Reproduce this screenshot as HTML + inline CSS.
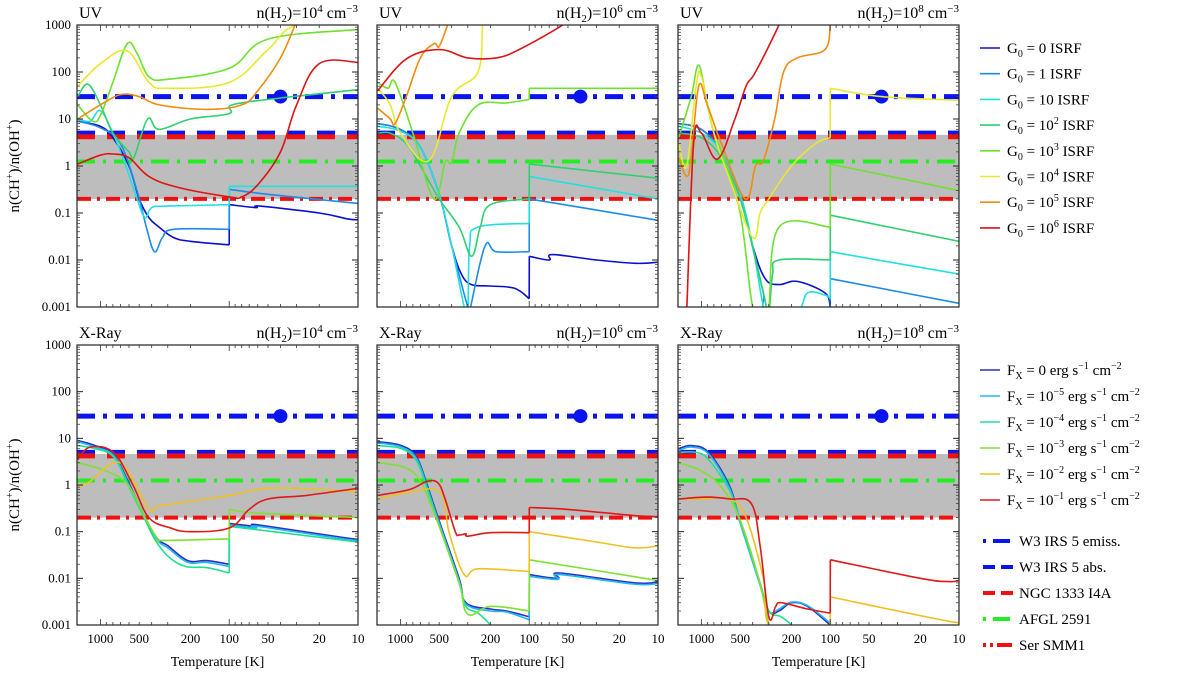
<!DOCTYPE html>
<html><head><meta charset="utf-8"><style>
body{margin:0;background:#fff}
svg{display:block;font-family:"Liberation Serif",serif}
</style></head><body>
<svg id="chart" width="1200" height="675" viewBox="0 0 1200 675" xmlns="http://www.w3.org/2000/svg">
<defs id="defs"></defs>
<g id="panels"></g>
<g id="legend-uv"></g>
<g id="legend-xray"></g>
<text transform="translate(19,166) rotate(-90)" text-anchor="middle" font-size="15">n(CH<tspan dy="-6" font-size="10">+</tspan><tspan dy="6">)/n(OH</tspan><tspan dy="-6" font-size="10">+</tspan><tspan dy="6">)</tspan></text>
<text transform="translate(19,485) rotate(-90)" text-anchor="middle" font-size="15">n(CH<tspan dy="-6" font-size="10">+</tspan><tspan dy="6">)/n(OH</tspan><tspan dy="-6" font-size="10">+</tspan><tspan dy="6">)</tspan></text>
</svg>
<script>
// ---------- data: [temperature K, ratio] ----------
const uvTitles = ["4","6","8"];
const uvColors = ["#0a10c8","#1c8ce8","#22e0e0","#30d070","#6ee030","#e8e830","#f08c10","#dc1414"];
const xrColors = ["#2a30c0","#20b8f0","#20e090","#80e030","#f0c020","#e01818"];
const refValues = [30, 5, 4.2, 1.25, 0.2];
const bandRange = [0.2, 4.6];
const dotTemperature = 40;

const uv4 = [
 [[1500,9],[1000,7],[800,4],[600,1],[500,0.2],[420,0.08],[350,0.05],[270,0.03],[200,0.025],[100,0.021],[99.9,0.15],[62,0.13],[58,0.14],[20,0.1],[12,0.075],[10,0.072]],
 [[1500,9],[1000,6.5],[700,3],[520,0.3],[440,0.05],[380,0.015],[330,0.03],[270,0.045],[100,0.045],[99.9,0.32],[50,0.25],[10,0.16]],
 [[1500,10],[1200,9],[1000,15],[800,5],[650,1.2],[520,0.2],[450,0.08],[400,0.13],[300,0.14],[100,0.15],[99.9,0.37],[10,0.37]],
 [[1500,30],[1250,55],[1000,20],[800,5],[600,2],[550,1.5],[430,10],[350,6],[200,10],[100,13],[95,20],[40,28],[10,42]],
 [[1500,20],[1150,9],[1000,12],[800,60],[620,400],[520,250],[420,80],[300,70],[100,120],[50,500],[10,800]],
 [[1500,50],[1000,150],[620,280],[420,60],[300,45],[100,60],[50,300],[30,1000],[10,1200]],
 [[1500,10],[1000,20],[700,33],[500,30],[350,20],[150,16],[80,20],[60,40],[40,200],[30,1200]],
 [[1500,1.1],[1000,1.7],[800,1.8],[600,1.5],[420,0.6],[250,0.35],[100,0.22],[80,0.22],[60,0.4],[40,2],[30,20],[20,150],[10,160]]
];
const uv6 = [
 [[1500,8],[1000,6],[700,2.5],[500,0.25],[400,0.02],[336,0.005],[280,0.003],[200,0.0028],[130,0.0025],[100,0.0015],[99.9,0.012],[70,0.01],[66,0.013],[30,0.01],[15,0.0085],[10,0.009]],
 [[1500,8],[1000,6],[700,2.5],[500,0.25],[400,0.02],[300,0.001],[280,0.0008],[285,0.001],[220,0.02],[180,0.015],[100,0.015],[99.9,0.2],[10,0.07]],
 [[1500,7],[1000,5.5],[700,2.5],[500,0.25],[400,0.02],[320,0.001],[300,0.0008],[290,0.02],[250,0.05],[100,0.06],[99.9,0.6],[10,0.2]],
 [[1500,5],[1200,5],[900,3],[700,1],[500,0.2],[350,0.05],[280,0.012],[240,0.05],[200,0.15],[100,0.2],[99.9,1.1],[10,0.55]],
 [[1500,60],[1250,45],[1100,60],[800,5],[550,0.2],[450,1.2],[400,1.2],[350,5],[250,20],[150,22],[100,26],[99.9,45],[10,45]],
 [[1500,45],[1200,20],[1000,5],[600,1.3],[400,30],[250,100],[230,1000],[220,1500]],
 [[1500,17],[1200,10],[1100,8],[900,30],[700,200],[550,400],[500,350],[430,1000],[400,1500]],
 [[1500,40],[900,190],[500,300],[300,200],[180,200],[120,300],[55,1000],[50,1500]]
];
const uv8 = [
 [[1500,8],[1000,6],[700,2],[500,0.25],[400,0.02],[320,0.004],[250,0.003],[180,0.0035],[110,0.002],[100,0.001],[99,0.0005]],
 [[1500,8],[1000,6],[700,2],[500,0.25],[400,0.02],[330,0.002],[300,0.0009],[100,0.0009],[99.9,0.004],[10,0.0012]],
 [[1500,7],[1000,5],[700,2],[500,0.25],[400,0.02],[330,0.001],[300,0.0008],[180,0.0008],[150,0.002],[110,0.0018],[100,0.0015],[99.9,0.015],[10,0.005]],
 [[1500,5],[1000,4],[700,1.5],[500,0.2],[380,0.01],[330,0.002],[300,0.0008],[280,0.005],[250,0.01],[100,0.01],[99.9,0.09],[10,0.025]],
 [[1500,4],[1200,30],[1050,140],[900,20],[800,5],[700,2],[500,0.1],[400,0.001],[330,0.0008],[300,0.001],[250,0.05],[100,0.05],[99.9,1.1],[10,0.3]],
 [[1500,3],[1300,1],[1100,50],[1000,80],[800,5],[600,0.5],[400,0.03],[350,0.1],[300,0.2],[200,1],[130,3],[100,4],[99.9,45],[40,30],[10,25]],
 [[1500,1.5],[1300,0.6],[1200,1.5],[1050,50],[900,20],[700,3],[457,0.2],[380,1],[330,1.3],[270,10],[230,100],[180,200],[110,300],[100,1000],[99,1500]],
 [[1300,0.0008],[1150,3],[1000,5],[750,1.4],[550,10],[450,50],[380,100],[250,1000],[240,1500]]
];
const xr4 = [
 [[1500,9],[1100,7],[790,4.5],[610,1.2],[450,0.2],[360,0.07],[300,0.05],[210,0.024],[150,0.024],[100,0.02],[99.9,0.15],[62,0.13],[60,0.14],[13,0.075],[10,0.07]],
 [[1500,8.5],[1100,6.5],[790,4.3],[610,1.1],[450,0.19],[360,0.065],[300,0.045],[210,0.022],[150,0.022],[100,0.018],[99.9,0.14],[62,0.12],[60,0.13],[13,0.07],[10,0.066]],
 [[1500,7],[1100,6],[790,4],[610,1],[450,0.18],[380,0.07],[300,0.03],[220,0.018],[150,0.017],[100,0.013],[99.9,0.13],[10,0.06]],
 [[1500,3],[900,2],[610,1],[450,0.2],[360,0.07],[320,0.065],[100,0.07],[99.9,0.3],[60,0.25],[10,0.2]],
 [[1500,0.9],[1200,1.2],[790,3],[610,2],[420,0.3],[360,0.35],[200,0.45],[100,0.6],[50,0.85],[20,0.8],[10,0.7]],
 [[1500,3.5],[1200,6.5],[790,5],[560,1],[420,0.2],[285,0.12],[200,0.1],[100,0.12],[70,0.3],[50,0.5],[25,0.6],[10,0.85]]
];
const xr6 = [
 [[1500,8.5],[980,7],[750,4],[620,1],[510,0.2],[350,0.01],[310,0.003],[200,0.0022],[150,0.002],[100,0.0015],[99.9,0.012],[60,0.01],[58,0.013],[15,0.008],[10,0.0085]],
 [[1500,8],[980,6.5],[750,3.7],[620,0.9],[510,0.18],[350,0.009],[310,0.0028],[200,0.002],[150,0.0019],[100,0.0013],[99.9,0.011],[60,0.0095],[58,0.012],[15,0.0075],[10,0.0078]],
 [[1500,7],[980,6],[750,3.3],[620,0.8],[510,0.16],[350,0.008],[310,0.0025],[250,0.0018],[200,0.001],[180,0.0006]],
 [[1500,3],[980,2.5],[750,1.6],[620,0.6],[510,0.15],[350,0.008],[300,0.0017],[200,0.0025],[100,0.002],[99.9,0.025],[10,0.009]],
 [[1500,0.5],[850,0.7],[490,0.7],[420,0.1],[320,0.012],[250,0.016],[100,0.014],[99.9,0.1],[30,0.06],[15,0.045],[10,0.05]],
 [[1500,0.6],[850,0.8],[620,1.2],[510,1.1],[450,0.5],[375,0.1],[350,0.085],[310,0.09],[300,0.08],[200,0.095],[100,0.095],[99.9,0.33],[50,0.3],[15,0.22],[10,0.21]]
];
const xr8 = [
 [[1500,6],[1200,7],[880,5],[610,1],[510,0.2],[360,0.01],[300,0.002],[250,0.002],[200,0.003],[150,0.0025],[100,0.001],[99,0.0005]],
 [[1500,5.5],[1200,6.5],[880,4.6],[610,0.9],[510,0.18],[360,0.009],[300,0.002],[250,0.0022],[200,0.0031],[150,0.0026],[100,0.0011],[99,0.0005]],
 [[1500,5],[1100,5],[880,3.5],[610,0.8],[510,0.2],[360,0.01],[300,0.002],[240,0.0015],[180,0.0008]],
 [[1500,3],[1000,2],[700,0.9],[510,0.2],[360,0.01],[300,0.001],[290,0.0007]],
 [[1500,0.5],[1000,0.5],[600,0.5],[450,0.2],[330,0.01],[280,0.0008],[100,0.0008],[99.9,0.004],[12,0.0012],[10,0.0013]],
 [[1500,0.5],[910,0.55],[600,0.5],[410,0.4],[350,0.05],[300,0.0015],[265,0.0025],[240,0.003],[150,0.0022],[100,0.0018],[99.9,0.025],[20,0.01],[12,0.0085],[10,0.009]]
];
const xTickLabels = [1000,500,200,100,50,20,10];
const yTickLabels = ["0.001","0.01","0.1","1","10","100","1000"];

// ---------- layout ----------
const NS="http://www.w3.org/2000/svg";
const colsX=[77,377,678], W=281;
const rowsY=[[25,307],[345,625]];
const LT0=Math.log10(1520), LT1=1;
function mk(tag,attrs,parent){const e=document.createElementNS(NS,tag);for(const k in attrs)e.setAttribute(k,attrs[k]);if(parent)parent.appendChild(e);return e;}
function xScale(px0){return T=>px0+(LT0-Math.log10(T))/(LT0-LT1)*W;}
function yScale(r){return v=>r[0]+(3-Math.log10(v))/6*(r[1]-r[0]);}
function smoothPath(pts){
 // split at jumps (nearly equal x)
 const segs=[];let cur=[pts[0]];
 for(let i=1;i<pts.length;i++){if(Math.abs(pts[i][0]-pts[i-1][0])<1.5){segs.push(cur);cur=[pts[i-1],pts[i]];segs.push(cur);cur=[pts[i]];}else cur.push(pts[i]);}
 segs.push(cur);
 let d='';
 segs.forEach(s=>{if(s.length<2)return;
  d+='M'+s[0][0].toFixed(1)+','+s[0][1].toFixed(1);
  for(let i=0;i<s.length-1;i++){
   const p0=s[Math.max(0,i-1)],p1=s[i],p2=s[i+1],p3=s[Math.min(s.length-1,i+2)];
   const t=0.18;
   const c1=[p1[0]+(p2[0]-p0[0])*t,p1[1]+(p2[1]-p0[1])*t];
   const c2=[p2[0]-(p3[0]-p1[0])*t,p2[1]-(p3[1]-p1[1])*t];
   d+='C'+c1[0].toFixed(1)+','+c1[1].toFixed(1)+' '+c2[0].toFixed(1)+','+c2[1].toFixed(1)+' '+p2[0].toFixed(1)+','+p2[1].toFixed(1);
  }});
 return d;
}

const panelsG=document.getElementById('panels');
const defs=document.getElementById('defs');
const panelDefs=[
 {row:0,col:0,data:uv4,colors:uvColors,kind:"UV",exp:"4"},
 {row:0,col:1,data:uv6,colors:uvColors,kind:"UV",exp:"6"},
 {row:0,col:2,data:uv8,colors:uvColors,kind:"UV",exp:"8"},
 {row:1,col:0,data:xr4,colors:xrColors,kind:"X-Ray",exp:"4"},
 {row:1,col:1,data:xr6,colors:xrColors,kind:"X-Ray",exp:"6"},
 {row:1,col:2,data:xr8,colors:xrColors,kind:"X-Ray",exp:"8"}
];
panelDefs.forEach((p,pi)=>{
 const x0=colsX[p.col], r=rowsY[p.row], X=xScale(x0), Y=yScale(r);
 const g=mk('g',{},panelsG);
 
 
 const cp=mk('clipPath',{id:'cp'+pi},defs);
 mk('rect',{x:x0,y:r[0],width:W,height:r[1]-r[0]},cp);
 const inner=mk('g',{'clip-path':'url(#cp'+pi+')'},g);
 const band=mk('rect',{x:x0,y:Y(bandRange[1]),width:W,height:Y(bandRange[0])-Y(bandRange[1]),fill:'#bdbdbd'},inner);
 
 
 const refStyles=[
  {c:'#0a14f0',w:5,d:'18,8,4,8',n:'w3-irs5-emission-line'},
  {c:'#0a14f0',w:5,d:'18,12',n:'w3-irs5-absorption-line'},
  {c:'#f01010',w:5,d:'18,12',n:'ngc1333-i4a-line'},
  {c:'#22ee22',w:4,d:'18,8,3,8',n:'afgl2591-line'},
  {c:'#f01010',w:4,d:'14,6,3,6',n:'ser-smm1-line'}
 ];
 refValues.forEach((v,i)=>{
  const s=refStyles[i];
  const l=mk('line',{x1:x0,x2:x0+W,y1:Y(v),y2:Y(v),stroke:s.c,'stroke-width':s.w,'stroke-dasharray':s.d},inner);
  
  
 });
 const dot=mk('circle',{cx:X(dotTemperature),cy:Y(refValues[0]),r:7,fill:'#0a14f0'},inner);
 
 
 p.data.forEach((s,si)=>{
  const pts=s.map(pt=>[X(pt[0]),Y(pt[1])]);
  const path=mk('path',{d:smoothPath(pts),fill:'none',stroke:p.colors[si],'stroke-width':1.6,'stroke-linejoin':'round'},inner);
  
  
 });
 mk('rect',{x:x0,y:r[0],width:W,height:r[1]-r[0],fill:'none',stroke:'#222','stroke-width':1.2},g);
 for(let e=-3;e<=3;e++){
  const yy=Y(Math.pow(10,e));
  mk('line',{x1:x0,x2:x0+6,y1:yy,y2:yy,stroke:'#222'},g);
  mk('line',{x1:x0+W,x2:x0+W-6,y1:yy,y2:yy,stroke:'#222'},g);
  if(e<3)for(let m=2;m<=9;m++){const ym=Y(m*Math.pow(10,e));
   mk('line',{x1:x0,x2:x0+3,y1:ym,y2:ym,stroke:'#444','stroke-width':0.8},g);
   mk('line',{x1:x0+W,x2:x0+W-3,y1:ym,y2:ym,stroke:'#444','stroke-width':0.8},g);}
  if(p.col===0){const t=mk('text',{x:x0-6,y:yy+4,'text-anchor':'end','font-size':13},g);t.textContent=yTickLabels[e+3];
   
   }
 }
 for(let e=1;e<=3;e++){for(let m=1;m<=9;m++){const T=m*Math.pow(10,e);if(T>1520)continue;
  const xx=X(T),len=m===1?6:3;
  mk('line',{x1:xx,x2:xx,y1:r[1],y2:r[1]-len,stroke:'#333','stroke-width':0.8},g);
  mk('line',{x1:xx,x2:xx,y1:r[0],y2:r[0]+len,stroke:'#333','stroke-width':0.8},g);}}
 if(p.row===1){xTickLabels.forEach(T=>{const t=mk('text',{x:X(T),y:r[1]+18,'text-anchor':'middle','font-size':13},g);t.textContent=T;
  
  });
  const xl=mk('text',{x:x0+W/2,y:r[1]+41,'text-anchor':'middle','font-size':14},g);xl.textContent='Temperature [K]';
  
  }
 const tl=mk('text',{x:x0+2,y:r[0]-7,'font-size':16},g);tl.textContent=p.kind;
 
 
 const tr=mk('text',{x:x0+W,y:r[0]-7,'text-anchor':'end','font-size':16},g);
 
 
 tr.innerHTML='n(H<tspan dy="4" font-size="11">2</tspan><tspan dy="-4">)=10</tspan><tspan dy="-6" font-size="11">'+p.exp+'</tspan><tspan dy="6"> cm</tspan><tspan dy="-6" font-size="11">−3</tspan>';
});

const lu=document.getElementById('legend-uv');
const uvExp=["0","1","10"];
uvColors.forEach((c,i)=>{
 const y=48+i*25.7;
 const g=mk('g',{},lu);
 
 
 mk('line',{x1:980,x2:1000,y1:y,y2:y,stroke:c,'stroke-width':1.6},g);
 const t=mk('text',{x:1007,y:y+5,'font-size':15},g);
 const v=i<3?uvExp[i]:'10</tspan><tspan dy="-6" font-size="10">'+(i-1)+'</tspan><tspan dy="6">';
 t.innerHTML='G<tspan dy="4" font-size="10">0</tspan><tspan dy="-4"> = '+v+' ISRF</tspan>';
});
const lx=document.getElementById('legend-xray');
xrColors.forEach((c,i)=>{
 const y=370+i*26;
 const g=mk('g',{},lx);
 
 
 mk('line',{x1:980,x2:1000,y1:y,y2:y,stroke:c,'stroke-width':1.6},g);
 const t=mk('text',{x:1007,y:y+5,'font-size':15},g);
 const v=i===0?'0':'10</tspan><tspan dy="-6" font-size="10">−'+(6-i)+'</tspan><tspan dy="6">';
 t.innerHTML='F<tspan dy="4" font-size="10">X</tspan><tspan dy="-4"> = '+v+' erg s</tspan><tspan dy="-6" font-size="10">−1</tspan><tspan dy="6"> cm</tspan><tspan dy="-6" font-size="10">−2</tspan>';
});
const refNames=["W3 IRS 5 emiss.","W3 IRS 5 abs.","NGC 1333 I4A","AFGL 2591","Ser SMM1"];
const refLeg=[['#0a14f0','3,7,14,0'],['#0a14f0','12,6'],['#f01010','12,6'],['#22ee22','3,7,14,0'],['#f01010','3,4,3,4,12,0']];
refNames.forEach((n,i)=>{
 const y=541+i*26;
 const g=mk('g',{},lx);
 
 
 mk('line',{x1:983,x2:1015,y1:y,y2:y,stroke:refLeg[i][0],'stroke-width':4,'stroke-dasharray':refLeg[i][1]},g);
 const t=mk('text',{x:1019,y:y+5,'font-size':15},g);t.textContent=n;
});
</script>
</body></html>
